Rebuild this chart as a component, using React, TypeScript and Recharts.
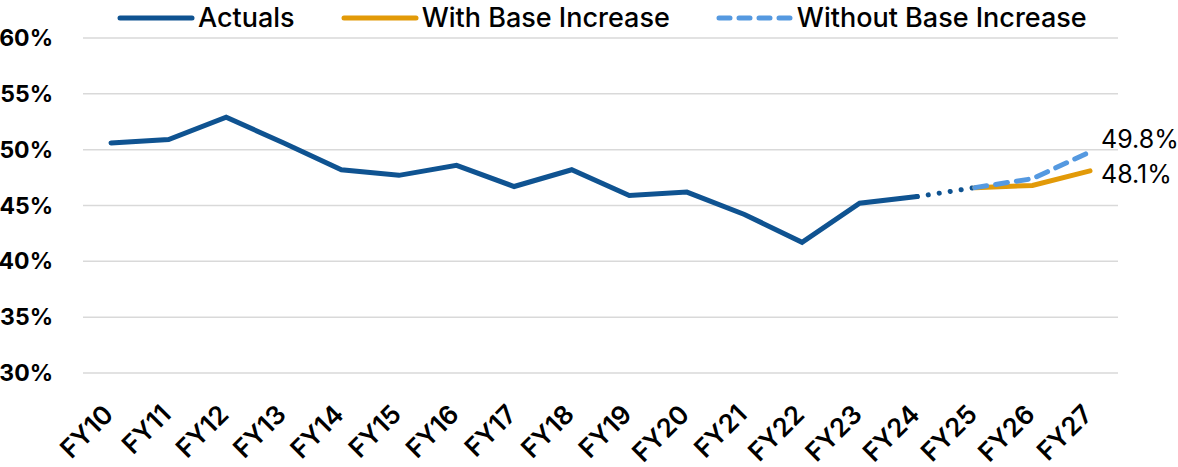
import { LineChart, Line, XAxis, YAxis, CartesianGrid, LabelList } from "recharts";

const categories = ["FY10", "FY11", "FY12", "FY13", "FY14", "FY15", "FY16", "FY17", "FY18", "FY19", "FY20", "FY21", "FY22", "FY23", "FY24", "FY25", "FY26", "FY27"];
const actuals = [50.6, 50.9, 52.9, 50.6, 48.2, 47.7, 48.6, 46.7, 48.2, 45.9, 46.2, 44.2, 41.7, 45.2, 45.8, null, null, null];
const bridge = [null, null, null, null, null, null, null, null, null, null, null, null, null, null, 45.8, 46.6, null, null];
const withBase = [null, null, null, null, null, null, null, null, null, null, null, null, null, null, null, 46.6, 46.8, 48.1];
const withoutBase = [null, null, null, null, null, null, null, null, null, null, null, null, null, null, null, 46.6, 47.4, 49.8];
const yTicks = [30, 35, 40, 45, 50, 55, 60];

const DARK = "#0F5391";
const ORANGE = "#E29A08";
const LIGHT = "#5599E0";
const FONT = "Inter, 'Noto Sans', sans-serif";

const data = categories.map((c, i) => ({
  name: c,
  actuals: actuals[i],
  bridge: bridge[i],
  withBase: withBase[i],
  withoutBase: withoutBase[i],
}));

const legendItems = [
  { label: "Actuals", color: DARK, dash: undefined },
  { label: "With Base Increase", color: ORANGE, dash: undefined },
  { label: "Without Base Increase", color: LIGHT, dash: "11 9" },
];

function TopLegend() {
  return (
    <div style={{ position: "absolute", left: 117, top: 2, display: "flex", gap: 46, fontFamily: FONT, fontSize: 27, fontWeight: 500, color: "#000", lineHeight: "32px" }}>
      {legendItems.map((it) => (
        <div key={it.label} style={{ display: "flex", alignItems: "center" }}>
          <svg width={78} height={10} style={{ marginRight: 3 }}>
            <line x1={3} y1={5} x2={75} y2={5} stroke={it.color} strokeWidth={5} strokeLinecap="round" strokeDasharray={it.dash} />
          </svg>
          <span>{it.label}</span>
        </div>
      ))}
    </div>
  );
}

function XTick(props: any) {
  const { x, y, payload } = props;
  return (
    <g transform={`translate(${x + 4},${y + 35})`}>
      <text x={0} y={0} textAnchor="end" transform="rotate(-45)" fontFamily={FONT} fontWeight={600} fontSize={26} fill="#000">
        {payload.value}
      </text>
    </g>
  );
}

function endLabel(offsetY: number) {
  return (props: any) => {
    const { x, y, value, index } = props;
    if (index !== categories.length - 1) return null;
    return (
      <text x={x + 11} y={y + offsetY} fontFamily={FONT} fontSize={25} fill="#000">
        {`${value.toFixed(1)}%`}
      </text>
    );
  };
}

export default function App() {
  return (
    <div style={{ position: "absolute", left: 0, top: 0, width: 1178, height: 467, background: "#fff" }}>
      <LineChart width={1178} height={467} data={data} margin={{ top: 38, right: 60, bottom: 0, left: 0 }}>
        <CartesianGrid vertical={false} stroke="#d9d9d9" strokeWidth={1.5} />
        <XAxis dataKey="name" axisLine={false} tickLine={false} height={94} tick={<XTick />} interval={0} padding={{ left: 28, right: 28 }} />
        <YAxis
          domain={[30, 60]}
          ticks={yTicks}
          width={83}
          axisLine={false}
          tickLine={false}
          tickMargin={24}
          tickFormatter={(v) => `${v}%`}
          tick={{ fontFamily: FONT, fontWeight: 700, fontSize: 23, fill: "#000" }}
        />
        <Line dataKey="actuals" stroke={DARK} strokeWidth={5} dot={false} isAnimationActive={false} strokeLinecap="round" />
        <Line dataKey="bridge" stroke={DARK} strokeWidth={5} dot={false} isAnimationActive={false} strokeLinecap="round" strokeDasharray="0.1 11" />
        <Line dataKey="withBase" stroke={ORANGE} strokeWidth={5} dot={false} isAnimationActive={false} strokeLinecap="round">
          <LabelList dataKey="withBase" content={endLabel(12)} />
        </Line>
        <Line dataKey="withoutBase" stroke={LIGHT} strokeWidth={5} dot={false} isAnimationActive={false} strokeLinecap="round" strokeDasharray="12 9">
          <LabelList dataKey="withoutBase" content={endLabel(-4)} />
        </Line>
      </LineChart>
      <TopLegend />
    </div>
  );
}
